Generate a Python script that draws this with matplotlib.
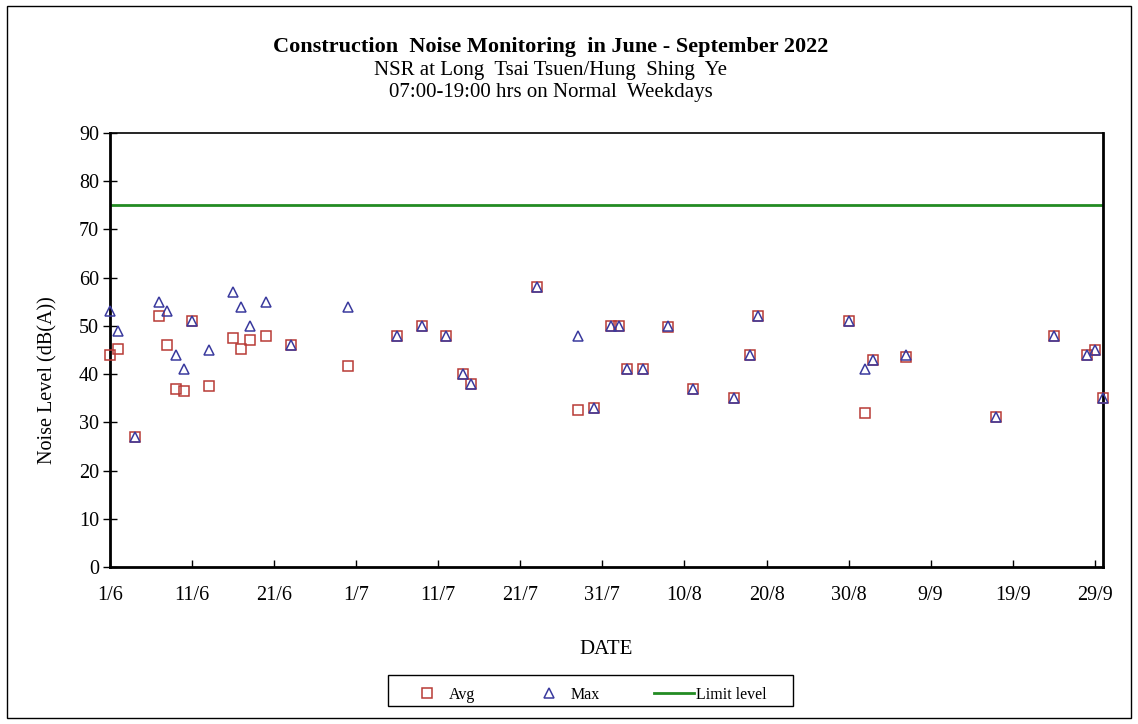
import datetime as dt
import matplotlib
matplotlib.use("Agg")
import matplotlib.pyplot as plt
from matplotlib.patches import Rectangle

plt.rcParams['font.family'] = ['Liberation Serif', 'DejaVu Serif']

# Monitoring dates (2022) and measured levels, dB(A)
dates = ["1/6", "2/6", "4/6", "7/6", "8/6", "9/6", "10/6", "11/6", "13/6", "16/6",
         "17/6", "18/6", "20/6", "23/6", "30/6", "6/7", "9/7", "12/7", "14/7", "15/7",
         "23/7", "28/7", "30/7", "1/8", "2/8", "3/8", "5/8", "8/8", "11/8", "16/8",
         "18/8", "19/8", "30/8", "1/9", "2/9", "6/9", "17/9", "24/9", "28/9", "29/9",
         "30/9"]
avg = [44, 45.3, 27, 52, 46, 37, 36.5, 51, 37.5, 47.5,
       45.3, 47, 48, 46, 41.6, 48, 50, 48, 40, 38,
       58, 32.5, 33, 50, 50, 41, 41, 49.7, 37, 35,
       44, 52, 51, 32, 43, 43.5, 31, 48, 44, 45,
       35]
mx = [53, 49, 27, 55, 53, 44, 41, 51, 45, 57,
      54, 50, 55, 46, 54, 48, 50, 48, 40, 38,
      58, 48, 33, 50, 50, 41, 41, 50, 37, 35,
      44, 52, 51, 41, 43, 44, 31, 48, 44, 45,
      35]
limit = 75
tick_labels = ["1/6", "11/6", "21/6", "1/7", "11/7", "21/7", "31/7",
               "10/8", "20/8", "30/8", "9/9", "19/9", "29/9"]


def to_date(s):
    d, m = s.split("/")
    return dt.date(2022, int(m), int(d))


x = [to_date(s) for s in dates]
ticks = [to_date(s) for s in tick_labels]

fig = plt.figure(figsize=(11.38, 7.24), dpi=100)
ax = fig.add_axes([0.0967, 0.2169, 0.8725, 0.5994])

ax.plot(x, avg, linestyle="none", marker="s", markersize=7, markerfacecolor="none",
        markeredgecolor="#B83A36", markeredgewidth=1.1, label="Avg", clip_on=False, zorder=3)
ax.plot(x, mx, linestyle="none", marker="^", markersize=7.5, markerfacecolor="none",
        markeredgecolor="#3A3A9E", markeredgewidth=1.1, label="Max", clip_on=False, zorder=3)
ax.axhline(limit, color="#228B22", linewidth=2, label="Limit level")

ax.set_xlim(to_date("1/6"), to_date("30/9"))
ax.set_ylim(0, 90)
ax.set_yticks(range(0, 91, 10))
ax.set_xticks(ticks)
ax.set_xticklabels(tick_labels)

for side in ["left", "bottom", "right"]:
    ax.spines[side].set_linewidth(2)
ax.spines["top"].set_linewidth(1.2)
ax.tick_params(axis="y", direction="inout", length=10, width=1, labelsize=14.5, pad=3)
ax.tick_params(axis="x", direction="in", length=5, width=1, labelsize=14.5, pad=14)

ax.set_ylabel("Noise Level (dB(A))", fontsize=14.5)
ax.yaxis.set_label_coords(-0.053, 0.43)
ax.set_xlabel("DATE", fontsize=15, labelpad=25)

fig.text(0.484, 0.935, "Construction  Noise Monitoring  in June - September 2022",
         ha="center", va="center", fontsize=16, fontweight="bold")
fig.text(0.484, 0.903, "NSR at Long  Tsai Tsuen/Hung  Shing  Ye",
         ha="center", va="center", fontsize=15)
fig.text(0.484, 0.872, "07:00-19:00 hrs on Normal  Weekdays",
         ha="center", va="center", fontsize=15)

leg = fig.legend(loc="center", bbox_to_anchor=(0.5154, 0.0405), ncol=3, fontsize=11.5,
                 frameon=False, handlelength=2.5, columnspacing=3.4, handletextpad=0.1,
                 borderaxespad=0)

# legend box drawn separately so its padding can be wider than the entries
fig.patches.append(Rectangle((388 / 1138, 1 - 706 / 724), 405 / 1138, 31 / 724,
                             transform=fig.transFigure, fill=False,
                             edgecolor="black", linewidth=1))

fig.patches.append(Rectangle((0.006, 0.008), 0.988, 0.984, transform=fig.transFigure,
                             fill=False, edgecolor="black", linewidth=1))

fig.savefig("out.png", dpi=100)
